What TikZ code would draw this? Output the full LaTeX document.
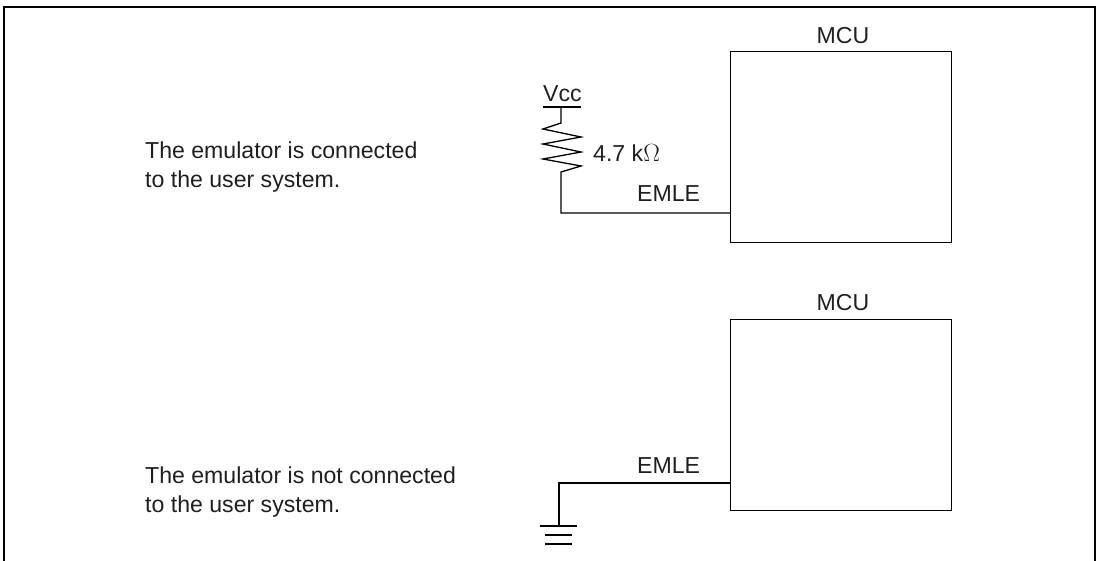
\documentclass[tikz,border=0pt]{standalone}
\usepackage{fontspec}
\setmainfont{Liberation Sans}
\begin{document}
\begin{tikzpicture}[x=1pt,y=-1pt,
  txt/.style={inner sep=0pt,anchor=base west,text=black!88,font=\fontsize{23.1}{29}\selectfont},
  ctxt/.style={inner sep=0pt,anchor=base,text=black!88,font=\fontsize{23.1}{29}\selectfont},
  mcubox/.style={draw,line width=1.3pt,minimum width=221pt,minimum height=191pt,inner sep=0pt,anchor=north west},
  wire/.style={line width=1.3pt},
  frame/.style={line width=2.2pt}]
\useasboundingbox (0,0) rectangle (1100,560);
% outer frame
\coordinate (f1) at (4,562);
\coordinate (f2) at (4,7);
\coordinate (f3) at (1095,7);
\coordinate (f4) at (1095,562);
\draw[frame,line join=miter] (f1) -- (f2) -- (f3) -- (f4);

% ---- top circuit ----
\node[mcubox] (mcu1) at (730,51) {};
\node[ctxt] (mcu1lbl) at (843,43) {MCU};
\node[txt,align=left] (t1a) at (145,158) {The emulator is connected};
\node[txt] (t1b) at (145,187) {to the user system.};
\node[txt] (vcc) at (543,101) {Vcc};
\node[txt] (res) at (593,161) {4.7 k$\Omega$};
\node[txt] (emle1) at (637,201) {EMLE};
\coordinate (vbarl) at (543,107);
\coordinate (vbarr) at (581,107);
\coordinate (vtop) at (561,107);
\coordinate (rtop) at (561,123);
\coordinate (rbot) at (561,172);
\coordinate (corner1) at (561,213);
\coordinate (pin1) at (mcu1.west |- corner1);
\draw[wire] (vbarl) -- (vbarr);
\draw[wire] (vtop) -- (rtop)
  -- (543,129) -- (581,137) -- (543,144) -- (581,152) -- (543,159) -- (581,166)
  -- (rbot) -- (corner1) -- (pin1);

% ---- bottom circuit ----
\node[mcubox] (mcu2) at (730,319) {};
\node[ctxt] (mcu2lbl) at (843,310) {MCU};
\node[txt] (t2a) at (145,483) {The emulator is not connected};
\node[txt] (t2b) at (145,512) {to the user system.};
\node[txt] (emle2) at (637,473) {EMLE};
\coordinate (corner2) at (559,483);
\coordinate (pin2) at (mcu2.west |- corner2);
\coordinate (gnd) at (559,526);
\draw[wire] (pin2) -- (corner2) -- (gnd);
\draw[wire] (540,526) -- (577,526);
\draw[wire] (545,535) -- (572,535);
\draw[wire] (545,544) -- (572,544);
\end{tikzpicture}
\end{document}
